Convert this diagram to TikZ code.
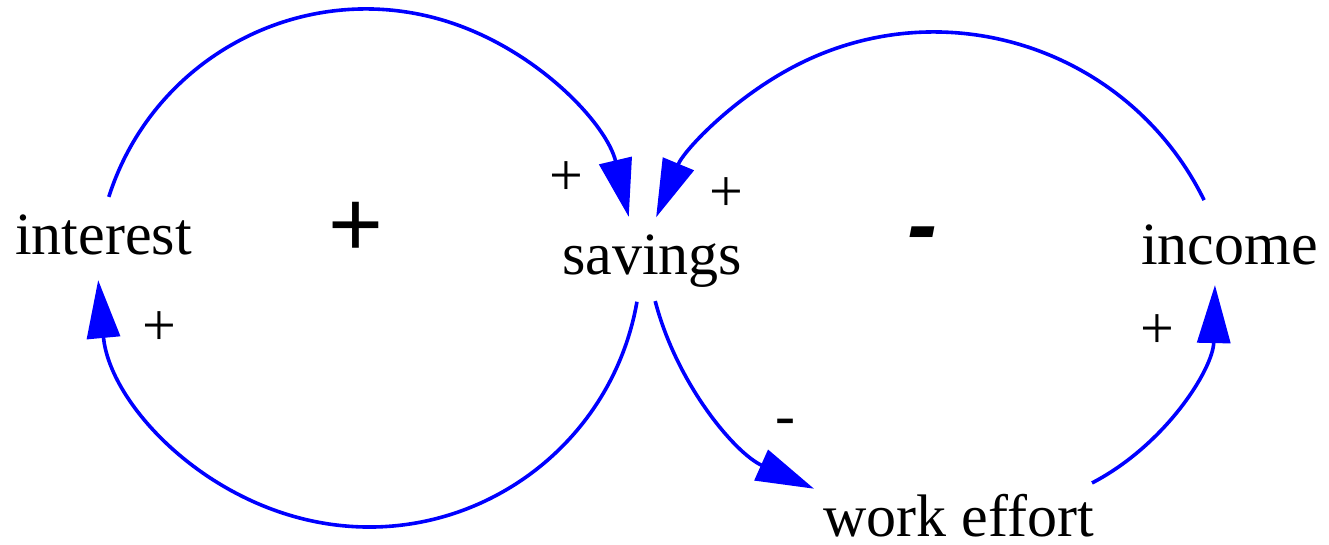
\documentclass[tikz,border=0pt]{standalone}
\usepackage{fontspec}
\setmainfont{Liberation Serif}
\newfontfamily\signfont{Liberation Sans}
\usetikzlibrary{arrows.meta}
\definecolor{linkblue}{RGB}{0,0,255}
\tikzset{
  link/.style={draw=linkblue, line width=3.6pt, -{Triangle[length=58pt,width=33pt]}, fill=none},
  var/.style={inner sep=0pt, font=\fontsize{60}{72}\selectfont},
  pol/.style={inner sep=0pt, font=\fontsize{60}{72}\selectfont},
  loopsign/.style={inner sep=0pt, font=\signfont\fontsize{94}{100}\selectfont},
}
\begin{document}
\begin{tikzpicture}[x=1pt,y=1pt]
\fill[white] (0,0) rectangle (1329,545);
\useasboundingbox (0,0) rectangle (1329,545);

% variables
\node[var, anchor=base west] (interest) at (15,290) {interest};
\node[var, anchor=base west] (savings) at (562,270) {savings};
\node[var, anchor=base west] (income) at (1141,280) {income};
\node[var, anchor=base west] (work) at (823,8) {work effort};

% arc start points
\coordinate (a1) at ([shift={(366,266)}]162.3:270);
\coordinate (a2) at ([shift={(369,290)}]-9.9:272);
\coordinate (a3) at ([shift={(934,212)}]26.2:301);
\coordinate (a4) at ([shift={(930,315.5)}]194.6:284);
\coordinate (a5) at ([shift={(986.5,264.7)}]-62.5:228.5);

% connectors
\draw[link] (a1) arc[start angle=162.3, end angle=13.3, radius=270];
\draw[link] (a2) arc[start angle=-9.9, end angle=-174.7, radius=272];
\draw[link] (a3) arc[start angle=26.2, end angle=157.4, radius=301];
\draw[link] (a4) arc[start angle=194.6, end angle=245.9, radius=284];
\draw[link] (a5) arc[start angle=-62.5, end angle=-1.2, radius=228.5];

% polarities
\node[pol] (p1) at (566,366) {+};
\node[pol] (p2) at (726,350) {+};
\node[pol] (p3) at (159,216) {+};
\node[pol, anchor=base] (p4) at (785,109) {-};
\node[pol] (p5) at (1157,213) {+};

% loop signs
\node[loopsign] (l1) at (356,316) {+};
\node[loopsign, anchor=base, font=\signfont\bfseries\itshape\fontsize{90}{100}\selectfont] (l2) at (922,289) {-};
\end{tikzpicture}
\end{document}
